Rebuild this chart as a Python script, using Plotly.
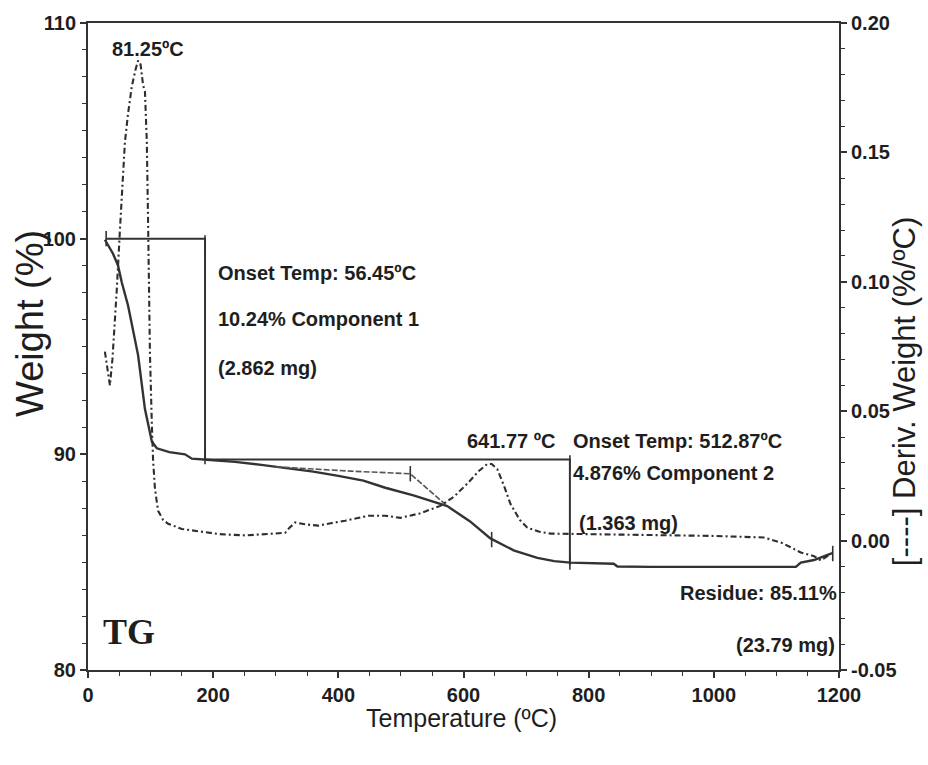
import plotly.graph_objects as go

# ---- TG (weight %) curve ----
temp_tg = [27, 40, 48, 54, 64, 80, 91, 102, 110, 130, 155, 166, 190, 235, 280, 315,
           360, 400, 440, 475, 520, 574, 610, 643, 680, 718, 745, 771, 800, 840,
           846, 900, 1000, 1100, 1131, 1139, 1160, 1187]
weight_tg = [99.95, 99.3, 98.75, 97.97, 96.9, 94.6, 92.1, 90.6, 90.28, 90.1, 90.0, 89.8,
             89.75, 89.65, 89.5, 89.38, 89.2, 89.0, 88.78, 88.45, 88.1, 87.6, 86.9,
             86.1, 85.55, 85.2, 85.05, 84.98, 84.95, 84.93, 84.8, 84.78, 84.78, 84.78,
             84.78, 84.98, 85.1, 85.4]

# ---- DTG (derivative weight) curve ----
temp_dtg = [27, 31, 35, 39, 42, 46, 51, 54, 59, 64, 70, 76, 80, 84, 88, 91, 94, 96,
            99, 102, 104, 107, 112, 120, 128, 150, 171, 210, 251, 290, 315, 322, 331,
            350, 368, 390, 411, 448, 475, 499, 530, 563, 585, 606, 625, 638, 645, 654,
            665, 675, 690, 702, 720, 739, 800, 900, 1000, 1080, 1110, 1139, 1160, 1171,
            1182, 1190]
deriv = [0.073, 0.066, 0.060, 0.070, 0.081, 0.097, 0.120, 0.134, 0.154, 0.165, 0.1755,
         0.182, 0.1855, 0.184, 0.176, 0.1735, 0.154, 0.123, 0.072, 0.045, 0.031, 0.020,
         0.0115, 0.008, 0.0065, 0.0045, 0.0038, 0.0025, 0.002, 0.0025, 0.003, 0.005,
         0.007, 0.0062, 0.0058, 0.0068, 0.0077, 0.0096, 0.0096, 0.0088, 0.0105, 0.0134,
         0.017, 0.022, 0.027, 0.0296, 0.0296, 0.0276, 0.021, 0.0142, 0.008, 0.005,
         0.0035, 0.0027, 0.0025, 0.002, 0.0018, 0.0012, -0.001, -0.0046, -0.006,
         -0.0077, -0.006, -0.0046]

# ---- step-analysis construction lines ----
step1_x = [29, 187, 187]
step1_y = [100.0, 100.0, 89.76]
step2_x = [187, 770, 770]
step2_y = [89.76, 89.76, 84.88]
tangent_x = [300, 420, 515, 574]
tangent_y = [89.42, 89.22, 89.1, 87.6]
tick_marks_x = [29, 187, 187, 515, 645, 770, 770, 1190]
tick_marks_y = [100.0, 99.8, 89.9, 89.1, 86.05, 89.6, 85.0, 85.4]

# ---- axis ticks ----
x_ticks = [0, 200, 400, 600, 800, 1000, 1200]
y_ticks = [80, 90, 100, 110]
y2_ticks = [-0.05, 0.0, 0.05, 0.10, 0.15, 0.20]
y2_labels = ["-0.05", "0.00", "0.05", "0.10", "0.15", "0.20"]

LINE = "#333333"
TXT = "#1e1e1e"
FONT = "Liberation Sans"

fig = go.Figure()
fig.add_trace(go.Scatter(x=temp_tg, y=weight_tg, mode="lines",
                         line=dict(color=LINE, width=2.4), showlegend=False))
fig.add_trace(go.Scatter(x=tangent_x, y=tangent_y, mode="lines",
                         line=dict(color="#555555", width=1.6, dash="6px,2px"),
                         showlegend=False))
fig.add_trace(go.Scatter(x=step1_x, y=step1_y, mode="lines",
                         line=dict(color=LINE, width=2), showlegend=False))
fig.add_trace(go.Scatter(x=step2_x, y=step2_y, mode="lines",
                         line=dict(color=LINE, width=2), showlegend=False))
fig.add_trace(go.Scatter(x=tick_marks_x, y=tick_marks_y, mode="markers",
                         marker=dict(symbol="line-ns", size=11,
                                     line=dict(color=LINE, width=1.6)),
                         showlegend=False))
fig.add_trace(go.Scatter(x=temp_dtg, y=deriv, mode="lines", yaxis="y2",
                         line=dict(color="#2e2e2e", width=2.1, dash="6px,3px,2px,3px"),
                         showlegend=False))

ann_font = dict(family=FONT, size=20, color=TXT, weight="bold")
annotations = [
    dict(x=96, y=108.8, text="81.25ºC", xanchor="center"),
    dict(x=205, y=98.43, text="Onset Temp: 56.45ºC", xanchor="left"),
    dict(x=205, y=96.27, text="10.24% Component 1", xanchor="left"),
    dict(x=205, y=94.0, text="(2.862 mg)", xanchor="left"),
    dict(x=750, y=90.6, text="641.77 ºC", xanchor="right"),
    dict(x=772, y=90.6, text="Onset Temp: 512.87ºC", xanchor="left"),
    dict(x=772, y=89.12, text="4.876% Component 2", xanchor="left"),
    dict(x=782, y=86.82, text="(1.363 mg)", xanchor="left"),
    dict(x=1200, y=83.55, text="Residue: 85.11%", xanchor="right"),
    dict(x=1197, y=81.15, text="(23.79 mg)", xanchor="right"),
]
anns = []
for a in annotations:
    a.update(xref="x", yref="y", yanchor="middle", showarrow=False, font=ann_font)
    anns.append(a)
anns.append(dict(x=66, y=81.75, xref="x", yref="y", text="TG", showarrow=False,
                 xanchor="center", yanchor="middle",
                 font=dict(family="Liberation Serif", size=36, color=TXT, weight="bold")))
# axis titles
anns.append(dict(x=0.498, y=-0.0737, xref="paper", yref="paper", text="Temperature (ºC)",
                 showarrow=False, xanchor="center", yanchor="middle",
                 font=dict(family=FONT, size=25, color=TXT)))
anns.append(dict(x=-0.077, y=0.535, xref="paper", yref="paper", text="Weight (%)",
                 showarrow=False, textangle=-90, xanchor="center", yanchor="middle",
                 font=dict(family=FONT, size=38, color=TXT)))
anns.append(dict(x=1.087, y=0.43, xref="paper", yref="paper",
                 text="[----] Deriv. Weight (%/ºC)",
                 showarrow=False, textangle=-90, xanchor="center", yanchor="middle",
                 font=dict(family=FONT, size=31, color=TXT)))

tickfont = dict(family=FONT, size=20, color=TXT, weight="bold")
common = dict(showgrid=False, zeroline=False, showline=True, linecolor=LINE,
              linewidth=2, ticks="outside", ticklen=6, tickwidth=1.5, tickcolor=LINE,
              tickfont=tickfont)

fig.update_layout(
    width=928, height=765,
    margin=dict(l=88, r=89, t=19, b=95),
    paper_bgcolor="white", plot_bgcolor="white",
    xaxis=dict(range=[0, 1200], tickmode="array", tickvals=x_ticks, mirror=True,
               minor=dict(dtick=50, tick0=0, ticks="outside", ticklen=4,
                          tickcolor=LINE, tickwidth=1.2),
               **common),
    yaxis=dict(range=[80, 110], tickmode="array", tickvals=y_ticks,
               minor=dict(dtick=1.25, tick0=80, ticks="outside", ticklen=4,
                          tickcolor=LINE, tickwidth=1.2),
               **common),
    yaxis2=dict(range=[-0.05, 0.20], overlaying="y", side="right", tickmode="array",
                tickvals=y2_ticks, ticktext=y2_labels,
                minor=dict(dtick=0.01, tick0=-0.05, ticks="outside", ticklen=4,
                           tickcolor=LINE, tickwidth=1.2),
                **common),
    annotations=anns,
)

fig.write_html("out.html")
